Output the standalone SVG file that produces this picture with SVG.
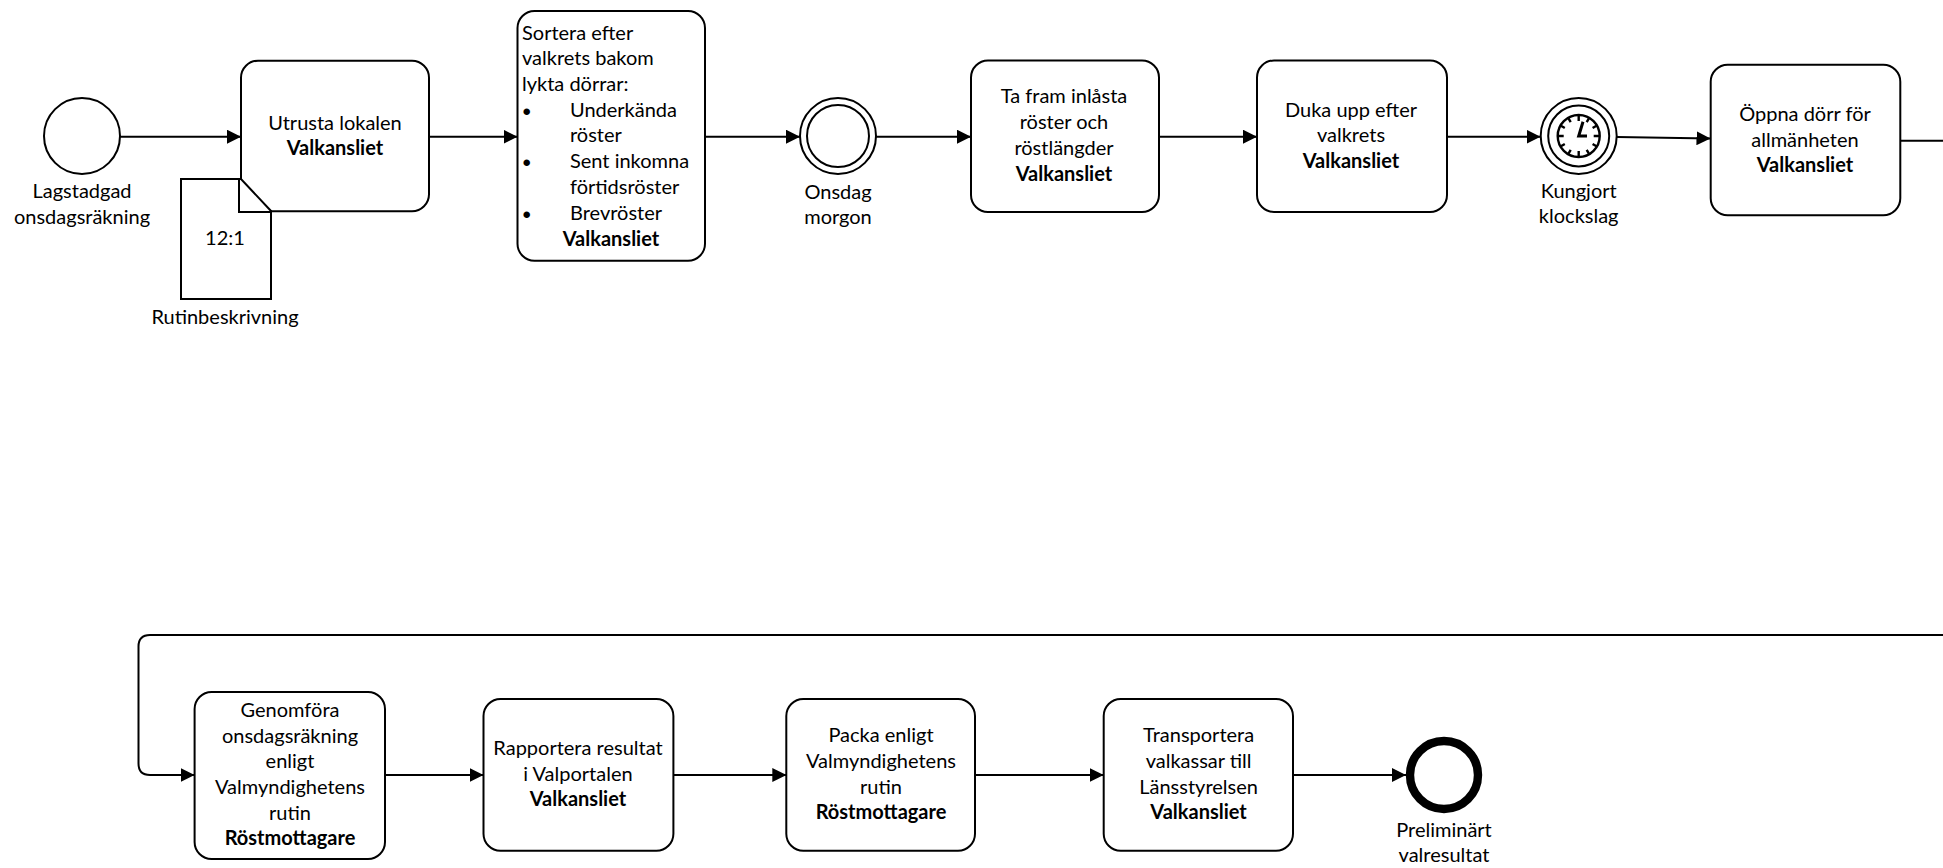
<svg xmlns="http://www.w3.org/2000/svg" width="1943" height="868" viewBox="0 0 1943 868">
<style>
text{font-family:"Lato","Carlito","Open Sans",sans-serif;font-size:20px;fill:#000;text-anchor:middle}
.b{font-weight:700}
.l{text-anchor:start}
.u{font-family:"Liberation Sans",sans-serif;font-size:24px}
.t{fill:#fff;stroke:#000;stroke-width:2}
.c{fill:none;stroke:#000;stroke-width:2}
.e{fill:#fff;stroke:#000;stroke-width:2}
</style>
<defs>
<marker id="a" markerUnits="userSpaceOnUse" markerWidth="14" markerHeight="14" refX="14" refY="7" orient="auto"><path d="M0 0L14 7L0 14Z" fill="#000"/></marker>
</defs>
<rect width="1943" height="868" fill="#fff"/>
<g id="connectors">
<path class="c" marker-end="url(#a)" d="M120 136.7H241"/>
<path class="c" marker-end="url(#a)" d="M429 136.7H517.5"/>
<path class="c" marker-end="url(#a)" d="M705 136.7H800"/>
<path class="c" marker-end="url(#a)" d="M876 136.7H971"/>
<path class="c" marker-end="url(#a)" d="M1159 136.7H1257"/>
<path class="c" marker-end="url(#a)" d="M1447 136.7H1540.5"/>
<path class="c" marker-end="url(#a)" d="M1617 137L1710.5 138.6"/>
<path class="c" d="M1900 140.7H1943"/>
<path class="c" marker-end="url(#a)" d="M1943 635H150Q138.5 635 138.5 646.5V763.5Q138.5 775 150 775H194.6"/>
<path class="c" marker-end="url(#a)" d="M385 775H483.5"/>
<path class="c" marker-end="url(#a)" d="M673.4 775H786.3"/>
<path class="c" marker-end="url(#a)" d="M975 775H1103.7"/>
<path class="c" marker-end="url(#a)" d="M1293 775H1406"/>
</g>
<g id="start">
<circle class="e" cx="82" cy="136" r="38"/>
<text x="82" y="198">Lagstadgad</text>
<text x="82" y="224">onsdagsräkning</text>
</g>
<g id="task-utrusta">
<rect class="t" x="241" y="60.7" width="188" height="150.6" rx="17"/>
<text x="335" y="130">Utrusta lokalen</text>
<text class="b" x="335" y="155">Valkansliet</text>
</g>
<g id="doc-rutin">
<path class="t" d="M181 179H241L271 211V299H181Z"/>
<path class="c" d="M239 179V212H271"/>
<text x="225" y="245">12:1</text>
<text x="225" y="324">Rutinbeskrivning</text>
</g>
<g id="task-sortera">
<rect class="t" x="517.5" y="11" width="187.5" height="249.7" rx="17"/>
<text class="l" x="522" y="40">Sortera efter</text>
<text class="l" x="522" y="65">valkrets bakom</text>
<text class="l" x="522" y="91">lykta dörrar:</text>
<text class="u" x="526.6" y="120">•</text>
<text class="l" x="570" y="116.7">Underkända</text>
<text class="l" x="570" y="142">röster</text>
<text class="u" x="526.6" y="171">•</text>
<text class="l" x="570" y="167.7">Sent inkomna</text>
<text class="l" x="570" y="194">förtidsröster</text>
<text class="u" x="526.6" y="222.7">•</text>
<text class="l" x="570" y="220">Brevröster</text>
<text class="b" x="611" y="245.5">Valkansliet</text>
</g>
<g id="event-onsdag">
<circle class="e" cx="838" cy="136" r="38"/>
<circle class="e" cx="838" cy="136" r="31"/>
<text x="838" y="199">Onsdag</text>
<text x="838" y="224">morgon</text>
</g>
<g id="task-tafram">
<rect class="t" x="971" y="60.5" width="188" height="151.5" rx="17"/>
<text x="1064" y="103">Ta fram inlåsta</text>
<text x="1064" y="129">röster och</text>
<text x="1064" y="155">röstlängder</text>
<text class="b" x="1064" y="181">Valkansliet</text>
</g>
<g id="task-duka">
<rect class="t" x="1257" y="60.5" width="190" height="151.5" rx="17"/>
<text x="1351" y="116.5">Duka upp efter</text>
<text x="1351" y="141.5">valkrets</text>
<text class="b" x="1351" y="167.5">Valkansliet</text>
</g>
<g id="event-klockslag">
<circle class="e" cx="1578.7" cy="136" r="38"/>
<circle class="e" cx="1578.7" cy="136" r="30.5"/>
<circle cx="1578.7" cy="136" r="21" fill="#fff" stroke="#000" stroke-width="2.4"/>
<path d="M1578.7 115v6M1578.7 151v6M1557.7 136h6M1593.7 136h6M1568.2 117.8l2.5 4.3M1589.2 154.2l-2.5-4.3M1560.5 125.5l4.3 2.5M1596.9 146.5l-4.3-2.5M1589.2 117.8l-2.5 4.3M1568.2 154.2l2.5-4.3M1596.9 125.5l-4.3 2.5M1560.5 146.5l4.3-2.5" stroke="#000" stroke-width="2.4" fill="none"/>
<path d="M1583 121.7L1578.7 136H1587" stroke="#000" stroke-width="3" fill="none"/>
<text x="1578.7" y="198">Kungjort</text>
<text x="1578.7" y="223">klockslag</text>
</g>
<g id="task-oppna">
<rect class="t" x="1710.7" y="64.8" width="189.6" height="150.5" rx="17"/>
<text x="1805" y="121">Öppna dörr för</text>
<text x="1805" y="147">allmänheten</text>
<text class="b" x="1805" y="172">Valkansliet</text>
</g>
<g id="task-genomfora">
<rect class="t" x="194.6" y="692" width="190.4" height="167" rx="17"/>
<text x="290" y="717.2">Genomföra</text>
<text x="290" y="742.5">onsdagsräkning</text>
<text x="290" y="768">enligt</text>
<text x="290" y="794">Valmyndighetens</text>
<text x="290" y="819.5">rutin</text>
<text class="b" x="290" y="845">Röstmottagare</text>
</g>
<g id="task-rapportera">
<rect class="t" x="483.5" y="699" width="189.9" height="151.7" rx="17"/>
<text x="578" y="755">Rapportera resultat</text>
<text x="578" y="781">i Valportalen</text>
<text class="b" x="578" y="806">Valkansliet</text>
</g>
<g id="task-packa">
<rect class="t" x="786.3" y="699" width="188.7" height="151.7" rx="17"/>
<text x="881" y="742">Packa enligt</text>
<text x="881" y="768">Valmyndighetens</text>
<text x="881" y="793.5">rutin</text>
<text class="b" x="881" y="819">Röstmottagare</text>
</g>
<g id="task-transportera">
<rect class="t" x="1103.7" y="699" width="189.3" height="151.7" rx="17"/>
<text x="1198.6" y="742">Transportera</text>
<text x="1198.6" y="768">valkassar till</text>
<text x="1198.6" y="793.5">Länsstyrelsen</text>
<text class="b" x="1198.6" y="819">Valkansliet</text>
</g>
<g id="end">
<circle cx="1444" cy="775" r="34" fill="#fff" stroke="#000" stroke-width="8.4"/>
<text x="1444" y="837">Preliminärt</text>
<text x="1444" y="862">valresultat</text>
</g>
</svg>
